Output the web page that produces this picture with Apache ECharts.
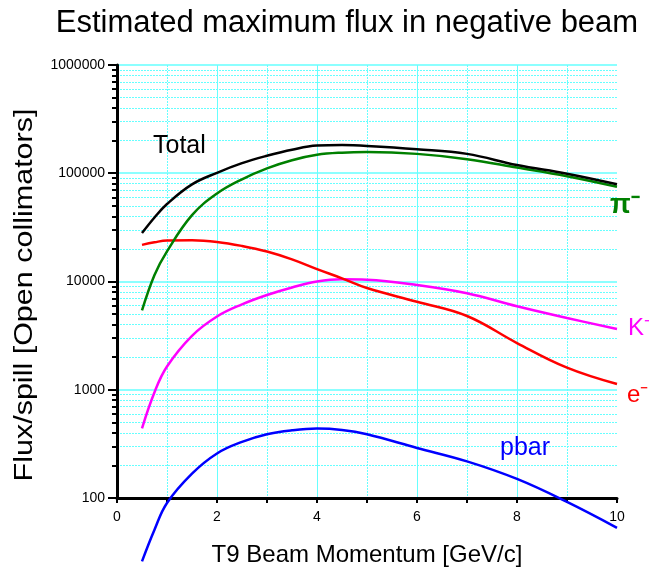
<!DOCTYPE html>
<html>
<head>
<meta charset="utf-8">
<script src="https://cdn.jsdelivr.net/npm/echarts@6/dist/echarts.min.js"></script>
<style>
html, body { margin: 0; padding: 0; background: #fff; }
#chart { width: 649px; height: 574px; }
</style>
</head>
<body>
<div id="chart"></div>
<script>
// momentum points (GeV/c) and flux per spill
var momentum = [0.5, 0.75, 1, 1.5, 2, 2.5, 3, 3.5, 4, 4.5, 5, 6, 7, 8, 9, 10];
var total = [28000, 39000, 52000, 79000, 101000, 124000, 145000, 165000, 180000, 182000, 179000, 167000, 151000, 119000, 99000, 79000];
var piMinus = [5400, 11500, 19000, 41000, 65000, 88000, 111000, 132000, 148000, 155000, 157000, 151000, 135000, 113000, 94000, 75000];
var eMinus = [21800, 23000, 23900, 24000, 23200, 21300, 18900, 16000, 13000, 10700, 8700, 6500, 4800, 2700, 1600, 1130];
var kMinus = [440, 950, 1640, 3150, 4750, 6150, 7500, 8800, 10000, 10500, 10400, 9300, 7800, 5900, 4600, 3640];
var pbar = [26, 51, 90, 168, 258, 330, 388, 422, 438, 425, 388, 290, 218, 150, 92, 53];

// minor log ticks between the decades
var minorTicks = [200, 300, 400, 500, 600, 700, 800, 900,
  2000, 3000, 4000, 5000, 6000, 7000, 8000, 9000,
  20000, 30000, 40000, 50000, 60000, 70000, 80000, 90000,
  200000, 300000, 400000, 500000, 600000, 700000, 800000, 900000];

function pairs(ys) {
  return momentum.map(function (x, i) { return [x, ys[i]]; });
}

var FONT = 'Liberation Sans, Arial, sans-serif';
var CYAN = '#6ff';

function curve(name, ys, color, z) {
  return {
    name: name, type: 'line', data: pairs(ys),
    smooth: 0.4, showSymbol: false, clip: false,
    lineStyle: { color: color, width: 2.5 }, z: z
  };
}

var myChart = echarts.init(document.getElementById('chart'));
var option = {
  backgroundColor: '#fff',
  animation: false,
  textStyle: { fontFamily: FONT },
  title: {
    text: 'Estimated maximum flux in negative beam',
    left: 342, top: 3, textAlign: 'center',
    textStyle: { fontFamily: FONT, fontSize: 31, fontWeight: 'normal', color: '#000' }
  },
  grid: { left: 117, right: 32, top: 65, bottom: 76 },
  xAxis: {
    type: 'value', min: 0, max: 10, interval: 2,
    name: 'T9 Beam Momentum [GeV/c]',
    nameLocation: 'middle', nameGap: 45,
    nameTextStyle: { fontFamily: FONT, fontSize: 24, color: '#000' },
    axisLine: { lineStyle: { color: '#000', width: 3 } },
    axisTick: { show: true, length: 5, lineStyle: { color: '#000', width: 2 } },
    minorTick: { show: true, splitNumber: 2, length: 5, lineStyle: { color: '#000', width: 2 } },
    axisLabel: { fontFamily: FONT, fontSize: 14, color: '#000', margin: 12 },
    splitLine: { show: true, showMinLine: false, showMaxLine: false, lineStyle: { color: CYAN, width: 1 } },
    minorSplitLine: { show: true, lineStyle: { color: CYAN, width: 1, type: [2, 1] } }
  },
  yAxis: [{
    type: 'log', min: 100, max: 1000000, logBase: 10,
    axisLine: { show: true, lineStyle: { color: '#000', width: 3 } },
    axisTick: { show: true, length: 9, lineStyle: { color: '#000', width: 2 } },
    axisLabel: { fontFamily: FONT, fontSize: 14, color: '#000', margin: 12,
      formatter: function (v) { return String(Math.round(v)); } },
    splitLine: { show: true, lineStyle: { color: CYAN, width: 1.5 } }
  }, {
    type: 'log', min: 100, max: 1000000, logBase: 10,
    position: 'left',
    axisLine: { show: false },
    axisLabel: { show: false },
    axisTick: { show: true, length: 5, customValues: minorTicks, lineStyle: { color: '#000', width: 2 } },
    splitLine: { show: true, lineStyle: { color: CYAN, width: 1, type: [2, 1] } }
  }],
  series: [
    curve('pbar', pbar, '#0000ff', 5),
    curve('K-', kMinus, '#ff00ff', 5),
    curve('e-', eMinus, '#ff0000', 5),
    curve('pi-', piMinus, '#008000', 5),
    curve('Total', total, '#000000', 6)
  ],
  graphic: [
    { type: 'text', x: 25, y: 295, rotation: Math.PI / 2, scaleX: 1.22, z: 100,
      style: { text: 'Flux/spill [Open collimators]', fill: '#000', font: '25px ' + FONT,
        align: 'center', verticalAlign: 'middle' } },
    { type: 'text', left: 153, top: 134, z: 100, style: { text: 'Total', fill: '#000', font: '25px ' + FONT } },
    { type: 'text', left: 610, top: 192, z: 100, style: { text: 'π⁻', fill: '#008000', font: 'bold 27px ' + FONT } },
    { type: 'text', left: 628, top: 316, z: 100, style: { text: 'K⁻', fill: '#ff00ff', font: '24px ' + FONT } },
    { type: 'text', left: 627, top: 383, z: 100, style: { text: 'e⁻', fill: '#ff0000', font: '24px ' + FONT } },
    { type: 'text', left: 500, top: 436, z: 100, style: { text: 'pbar', fill: '#0000ff', font: '25px ' + FONT } }
  ]
};
myChart.setOption(option);
</script>
</body>
</html>
